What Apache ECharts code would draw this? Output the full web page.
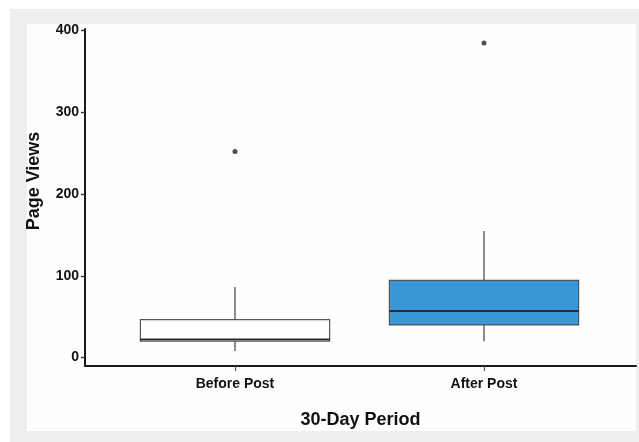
<!DOCTYPE html>
<html>
<head>
<meta charset="utf-8">
<script src="https://cdn.jsdelivr.net/npm/echarts@6/dist/echarts.min.js"></script>
<style>
html,body{margin:0;padding:0;background:#ffffff;width:639px;height:442px;overflow:hidden;}
#outer{position:absolute;left:10px;top:9px;width:629px;height:433px;background:#eeeeee;}
#panel{position:absolute;left:27px;top:24px;width:609px;height:407px;background:#fefefe;}
#chart{position:absolute;left:0;top:0;width:639px;height:442px;}
</style>
</head>
<body>
<div id="outer"></div>
<div id="panel"></div>
<div id="chart"></div>
<script>
// Data
const categories = ['Before Post', 'After Post'];
const lowerWhisker = [8, 20];
const q1 = [20, 40];
const median = [22, 57];
const q3 = [46.5, 94.5];
const upperWhisker = [86.5, 155];
const outliers = [[0, 252], [1, 385]];
const boxFill = ['#ffffff', '#3a97d7'];
const yTicks = [0, 100, 200, 300, 400];

const boxData = categories.map((c, i) => [i, lowerWhisker[i], q1[i], median[i], q3[i], upperWhisker[i]]);

const FONT = '"Liberation Sans", Arial, Helvetica, sans-serif';
const chart = echarts.init(document.getElementById('chart'), null, {renderer: 'canvas'});

const option = {
  backgroundColor: 'transparent',
  animation: false,
  textStyle: {fontFamily: FONT},
  grid: [
    {left: 85, right: 3, top: 29, bottom: 76},
    {left: 110.5, width: 498, top: 29, bottom: 76}
  ],
  xAxis: [
    {
      type: 'value', gridIndex: 0, min: 0, max: 1,
      axisLine: {show: true, onZero: false, lineStyle: {color: '#1a1a1a', width: 2}},
      axisTick: {show: false}, axisLabel: {show: false}, splitLine: {show: false},
      name: '30-Day Period', nameLocation: 'middle', nameGap: 45,
      nameTextStyle: {fontFamily: FONT, fontWeight: 'bold', fontSize: 18, color: '#111'}
    },
    {
      type: 'category', gridIndex: 1, data: categories, boundaryGap: true,
      axisLine: {show: false, onZero: false},
      axisTick: {show: true, alignWithLabel: true, length: 5, lineStyle: {color: '#555', width: 1.2}},
      axisLabel: {fontFamily: FONT, fontWeight: 'bold', fontSize: 14, color: '#111', margin: 11},
      splitLine: {show: false}
    }
  ],
  yAxis: [
    {
      type: 'value', gridIndex: 0, min: -10.3, max: 402,
      axisLine: {show: true, onZero: false, lineStyle: {color: '#1a1a1a', width: 2}},
      axisTick: {show: true, length: 4, customValues: yTicks, lineStyle: {color: '#333', width: 1.4}},
      axisLabel: {customValues: yTicks, fontFamily: FONT, fontWeight: 'bold', fontSize: 14, color: '#111', margin: 6},
      splitLine: {show: false}
    },
    {
      type: 'value', gridIndex: 1, min: -10.3, max: 402, show: false, splitLine: {show: false}
    }
  ],
  graphic: [
    {
      type: 'text', x: 34, y: 181, rotation: Math.PI / 2,
      style: {text: 'Page Views', font: 'bold 18px ' + FONT, fill: '#111', align: 'center', verticalAlign: 'middle'}
    }
  ],
  series: [
    {
      type: 'custom', xAxisIndex: 1, yAxisIndex: 1,
      data: boxData,
      encode: {x: 0, y: [1, 2, 3, 4, 5]},
      renderItem: function (params, api) {
        const idx = api.value(0);
        const pLow = api.coord([idx, api.value(1)]);
        const pQ1 = api.coord([idx, api.value(2)]);
        const pMed = api.coord([idx, api.value(3)]);
        const pQ3 = api.coord([idx, api.value(4)]);
        const pUp = api.coord([idx, api.value(5)]);
        const bw = api.size([1, 0])[0] * 0.76;
        const cx = pMed[0];
        const left = cx - bw / 2;
        return {
          type: 'group',
          children: [
            {type: 'line', shape: {x1: cx, y1: pUp[1], x2: cx, y2: pQ3[1]}, style: {stroke: '#666', lineWidth: 1.5}},
            {type: 'line', shape: {x1: cx, y1: pQ1[1], x2: cx, y2: pLow[1]}, style: {stroke: '#666', lineWidth: 1.5}},
            {type: 'rect', shape: {x: left, y: pQ3[1], width: bw, height: pQ1[1] - pQ3[1]},
              style: {fill: boxFill[idx], stroke: '#555', lineWidth: 1.2}},
            {type: 'line', shape: {x1: left, y1: pMed[1], x2: left + bw, y2: pMed[1]}, style: {stroke: '#2a2a2a', lineWidth: 2}}
          ]
        };
      }
    },
    {
      type: 'scatter', xAxisIndex: 1, yAxisIndex: 1,
      data: outliers, symbol: 'circle', symbolSize: 5,
      itemStyle: {color: '#222'}
    }
  ]
};
chart.setOption(option);
</script>
</body>
</html>
